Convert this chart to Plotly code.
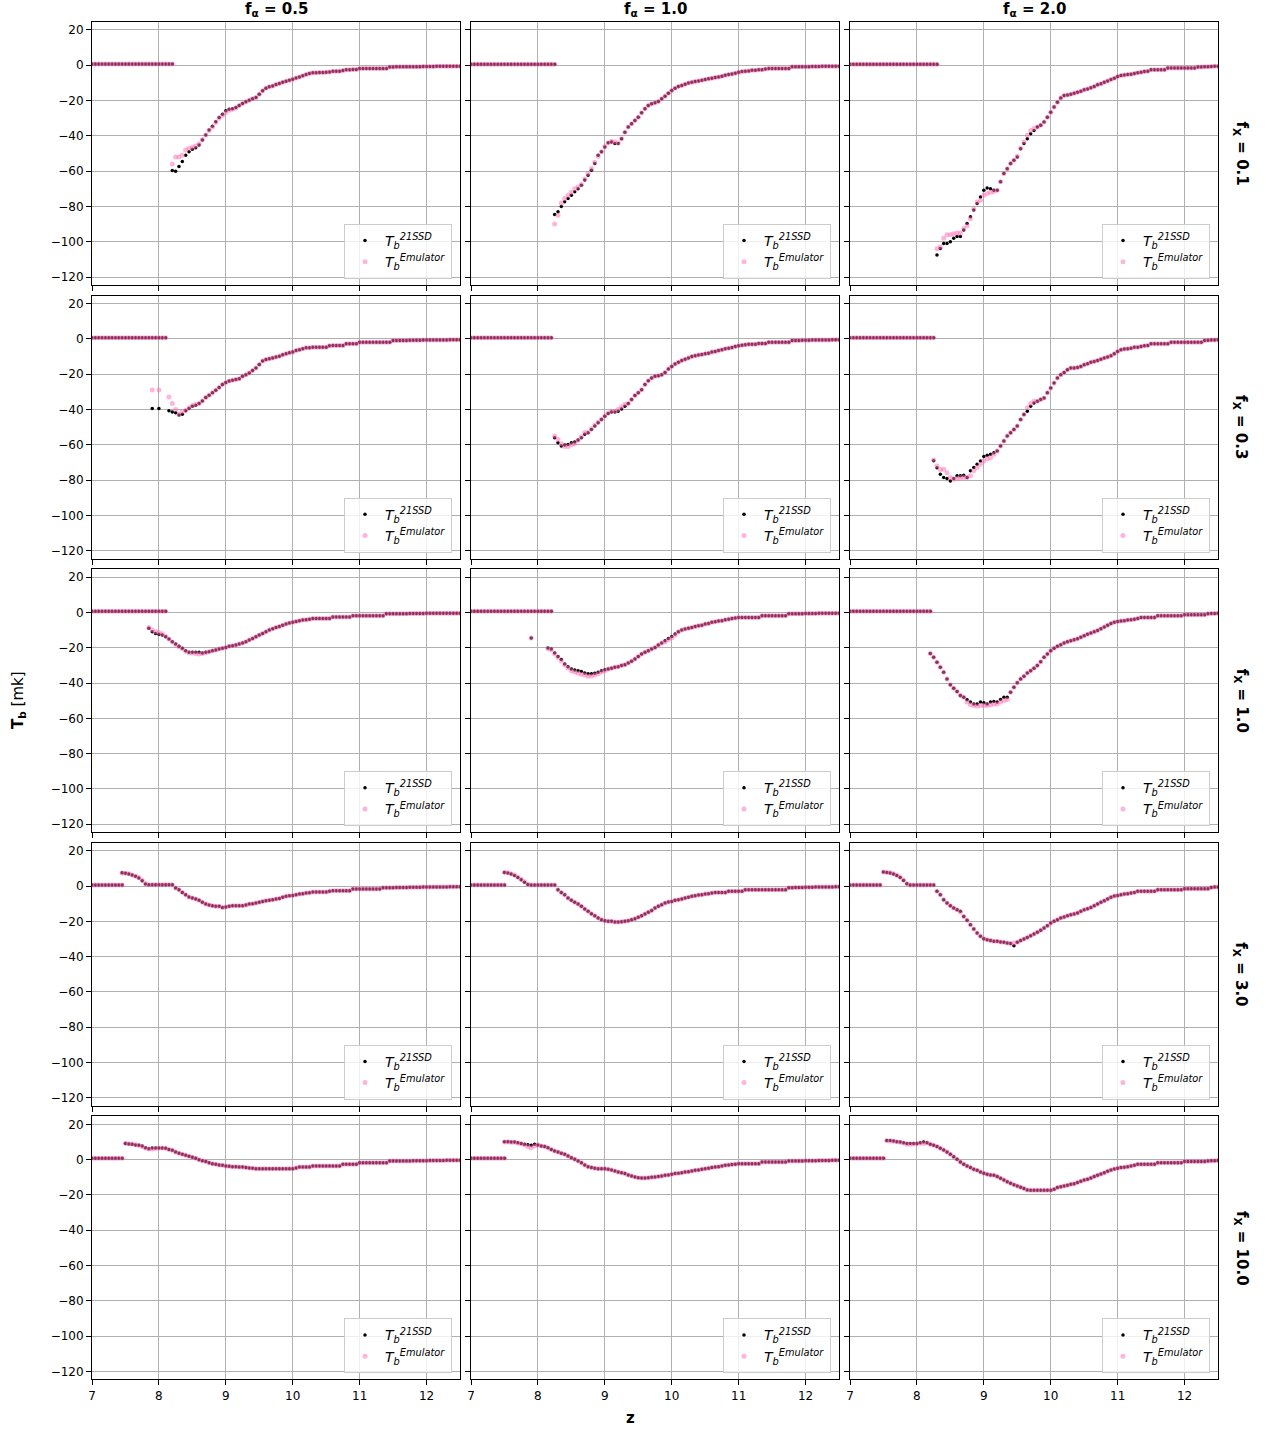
import plotly.graph_objects as go

# ---------------- categories / labels ----------------
FA_LABELS = ["0.5", "1.0", "2.0"]
FX_LABELS = ["0.1", "0.3", "1.0", "3.0", "10.0"]
X_TICKS = [7, 8, 9, 10, 11, 12]
Y_TICKS = [-120, -100, -80, -60, -40, -20, 0, 20]
Z_START = 7.0      # first redshift sample of the plateau branch
Z_STEP = 0.05      # redshift sampling step

# ---------------- data ----------------
# Each panel: plateau branch (starting at z=7.0), curve branch start z,
# T_b^21SSD curve values, and the head of the emulator curve where it
# departs from the 21SSD points (after the head both coincide).

# f_X = 0.1, f_alpha = 0.5
R1C1_PLATEAU = [0.7, 0.7, 0.7, 0.7, 0.7, 0.7, 0.7, 0.7, 0.7, 0.7, 0.7, 0.7, 0.7,
                0.7, 0.7, 0.7, 0.7, 0.7, 0.7, 0.7, 0.7, 0.7, 0.7, 0.7, 0.7]
R1C1_Z0 = 8.2
R1C1_SSD = [-59.7, -60.0, -57.4, -54.6, -51.0, -49.0, -47.6, -46.7, -45.2, -42.4,
            -39.5, -36.7, -34.5, -32.0, -29.6, -27.7, -25.8, -25.0, -24.7, -23.9,
            -22.8, -21.7, -20.7, -19.8, -19.0, -18.3, -16.4, -14.5, -13.0, -12.2,
            -11.7, -10.9, -10.4, -9.6, -9.0, -8.5, -7.9, -7.2, -6.6, -6.0,
            -5.3, -4.7, -4.3, -4.3, -4.1, -4.1, -4.0, -3.8, -3.4, -3.4,
            -3.4, -3.0, -2.6, -2.6, -2.4, -2.4, -1.9, -1.9, -1.9, -1.9,
            -1.9, -1.9, -1.9, -1.9, -1.9,
            -1.0, -1.0, -0.9, -0.9, -0.9, -0.9, -0.8, -0.8, -0.8, -0.8, -0.7,
            -0.7, -0.7, -0.7, -0.6, -0.6, -0.6, -0.6, -0.5, -0.5, -0.5, -0.5]
R1C1_EMU_HEAD = [-56.0, -52.0, -52.0, -51.0, -48.0, -47.0, -46.5, -45.8, -44.5, -42.0,
                 -39.5, -37.0, -35.0, -32.5, -30.0, -28.5, -26.8, -25.5, -25.0, -24.2]

# f_X = 0.1, f_alpha = 1.0
R1C2_PLATEAU = [0.6, 0.6, 0.6, 0.6, 0.6, 0.6, 0.6, 0.6, 0.6, 0.6, 0.6, 0.6, 0.6,
                0.6, 0.6, 0.6, 0.6, 0.6, 0.6, 0.6, 0.6, 0.6, 0.6, 0.6, 0.6, 0.6]
R1C2_Z0 = 8.25
R1C2_SSD = [-84.5, -83.0, -80.0, -77.4, -75.5, -73.6, -71.7, -70.0, -68.0, -65.0,
            -62.3, -59.5, -55.7, -51.0, -49.0, -46.3, -43.9, -43.5, -44.4, -44.4,
            -41.6, -37.9, -35.0, -33.1, -31.3, -29.4, -26.9, -24.7, -22.8, -21.8,
            -21.3, -20.5, -19.0, -17.5, -15.8, -14.3, -13.0, -12.1, -11.5, -10.7,
            -10.0, -9.6, -9.2, -8.9, -8.5, -8.1, -7.7, -7.3, -7.0, -6.6,
            -6.2, -5.6, -5.3, -4.9, -4.5, -4.0, -3.6, -3.4, -3.2, -2.8,
            -2.8, -2.6, -2.6, -2.1, -1.9, -1.9, -1.9, -1.9, -1.9, -1.9, -1.9,
            -0.9, -0.9, -0.9, -0.8, -0.8, -0.8, -0.7, -0.7, -0.7, -0.6, -0.6,
            -0.6, -0.5, -0.5, -0.5]
R1C2_EMU_HEAD = [-90.0, -85.0, -78.0, -75.5, -73.6, -72.0, -70.0, -69.0, -67.5, -64.5,
                 -61.5, -58.5, -55.0, -51.5, -49.0, -46.0, -44.0, -43.0, -43.5, -44.0]

# f_X = 0.1, f_alpha = 2.0
R1C3_PLATEAU = [0.6, 0.6, 0.6, 0.6, 0.6, 0.6, 0.6, 0.6, 0.6, 0.6, 0.6, 0.6, 0.6, 0.6,
                0.6, 0.6, 0.6, 0.6, 0.6, 0.6, 0.6, 0.6, 0.6, 0.6, 0.6, 0.6, 0.6]
R1C3_Z0 = 8.3
R1C3_SSD = [-107.5, -103.8, -101.0, -101.0, -100.0, -98.0, -97.0, -97.0, -93.4, -89.6,
            -85.9, -82.0, -78.3, -74.6, -70.8, -69.5, -69.9, -70.8, -70.8, -66.0,
            -61.4, -58.6, -55.7, -53.8, -52.0, -47.3, -44.4, -41.6, -38.8, -36.9,
            -35.0, -34.0, -32.2, -29.4, -26.6, -23.7, -20.9, -18.6, -17.1, -16.8,
            -16.4, -15.8, -15.3, -14.7, -13.9, -13.4, -12.8, -12.1, -11.1, -10.5,
            -9.6, -8.9, -8.1, -7.3, -6.4, -5.8, -5.5, -5.3, -5.1, -4.7,
            -4.3, -4.0, -3.6, -3.4, -2.6, -2.6, -2.6, -2.6, -2.6,
            -1.5, -1.5, -1.5, -1.5, -1.5, -1.5, -1.5, -1.5, -1.5,
            -1.0, -1.0, -0.9, -0.8, -0.7, -0.6, -0.5]
R1C3_EMU_HEAD = [-104.0, -103.0, -98.0, -96.0, -96.0, -95.5, -95.0, -95.0, -92.5, -91.0,
                 -87.0, -81.5, -77.5, -76.5, -73.6, -72.7, -72.0, -71.5, -70.8, -66.0,
                 -61.4, -58.6, -55.7, -53.8, -51.5, -47.0, -43.5, -39.7, -36.9, -35.9]

# f_X = 0.3, f_alpha = 0.5
R2C1_PLATEAU = [0.6, 0.6, 0.6, 0.6, 0.6, 0.6, 0.6, 0.6, 0.6, 0.6, 0.6, 0.6,
                0.6, 0.6, 0.6, 0.6, 0.6, 0.6, 0.6, 0.6, 0.6, 0.6, 0.6]
R2C1_Z0 = 7.9
R2C1_SSD = [-39.5, None, -39.5, None, None, -40.8, -41.4, -41.9, -43.2, -42.7,
            -40.8, -39.5, -38.2, -37.6, -36.7, -35.2, -33.3, -32.0, -30.6, -29.1,
            -27.6, -25.9, -24.8, -23.9, -23.5, -23.1, -22.6, -21.2, -20.3, -19.4,
            -17.9, -16.5, -14.5, -12.6, -11.7, -11.3, -10.9, -10.3, -9.8, -9.0,
            -8.5, -7.9, -7.5, -6.6, -6.2, -5.6, -5.1, -5.1, -4.7, -4.7,
            -4.7, -4.7, -4.7, -3.9, -3.8, -3.8, -3.8, -3.8, -2.8, -2.8,
            -2.8, -2.8,
            -1.9, -1.9, -1.9, -1.9, -1.9, -1.9, -1.9, -1.9, -1.9, -1.9,
            -0.9, -0.9, -0.9, -0.9, -0.9, -0.8, -0.8, -0.8, -0.8, -0.7, -0.7,
            -0.7, -0.7, -0.6, -0.6, -0.6, -0.6, -0.5, -0.5, -0.5, -0.5]
R2C1_EMU_HEAD = [-29.0, None, -29.0, None, None, -33.0, -36.7, -40.0, -42.7, -41.0,
                 -40.5, -39.0, -37.8, -37.2]

# f_X = 0.3, f_alpha = 1.0
R2C2_PLATEAU = [0.6, 0.6, 0.6, 0.6, 0.6, 0.6, 0.6, 0.6, 0.6, 0.6, 0.6, 0.6, 0.6,
                0.6, 0.6, 0.6, 0.6, 0.6, 0.6, 0.6, 0.6, 0.6, 0.6, 0.6, 0.6]
R2C2_Z0 = 8.25
R2C2_SSD = [-56.0, -58.8, -60.7, -60.2, -59.8, -58.8, -58.5, -57.3, -56.0, -54.1,
            -53.2, -51.3, -49.4, -47.6, -45.7, -43.8, -42.3, -41.5, -41.5, -41.0,
            -39.7, -38.2, -36.7, -34.4, -32.1, -30.6, -28.8, -25.9, -23.7, -22.2,
            -21.2, -20.9, -20.3, -19.0, -17.1, -15.6, -14.3, -13.2, -12.2, -11.5,
            -10.9, -10.0, -9.6, -9.2, -8.8, -8.5, -8.1, -7.5, -7.1, -6.6,
            -6.2, -5.6, -5.3, -4.9, -4.3, -3.9, -3.6, -3.4, -3.0, -3.0,
            -3.0, -2.6, -2.6, -2.6,
            -1.9, -1.9, -1.9, -1.9, -1.9, -1.9, -1.9,
            -0.9, -0.9, -0.9, -0.8, -0.8, -0.8, -0.7, -0.7, -0.7, -0.6, -0.6,
            -0.6, -0.5, -0.5, -0.5]
R2C2_EMU_HEAD = [-55.0, -57.0, -59.5, -61.0, -61.0, -60.0, -59.5, -57.5, -55.5, -53.0,
                 -53.0, -51.0, -49.0, -47.3, -45.5, -43.6, -42.0, -41.0, -41.0, -40.0,
                 -38.5, -37.0]

# f_X = 0.3, f_alpha = 2.0
R2C3_PLATEAU = [0.6, 0.6, 0.6, 0.6, 0.6, 0.6, 0.6, 0.6, 0.6, 0.6, 0.6, 0.6, 0.6,
                0.6, 0.6, 0.6, 0.6, 0.6, 0.6, 0.6, 0.6, 0.6, 0.6, 0.6, 0.6, 0.6]
R2C3_Z0 = 8.25
R2C3_SSD = [-69.0, -73.0, -76.7, -78.6, -79.1, -80.5, -79.1, -77.6, -77.6, -77.3,
            -78.6, -74.8, -72.9, -71.1, -69.2, -66.7, -66.0, -65.4, -64.5, -63.5,
            -60.7, -57.9, -55.1, -53.2, -51.3, -49.4, -45.7, -42.9, -41.0, -38.2,
            -36.3, -35.3, -34.4, -33.5, -30.6, -27.8, -25.0, -22.2, -20.3, -19.0,
            -17.5, -16.5, -16.5, -16.2, -15.6, -14.7, -14.1, -13.3, -12.8, -12.2,
            -11.5, -10.9, -10.3, -9.6, -8.5, -7.1, -6.2, -5.8, -5.6, -5.3,
            -4.7, -4.7, -4.3, -3.9, -3.8,
            -2.8, -2.8, -2.8, -2.8, -2.8, -2.8,
            -1.9, -1.9, -1.9, -1.9, -1.9, -1.9, -1.9, -1.9, -1.9, -1.9,
            -0.9, -0.8, -0.7, -0.6, -0.5]
R2C3_EMU_HEAD = [-68.6, -72.0, -74.0, -73.9, -75.8, -78.5, -79.5, -79.1, -78.6, -78.6,
                 -78.6, -77.6, -74.8, -72.9, -71.1, -69.2, -67.9, -67.3, -65.4, -63.5,
                 -60.7, -57.9, -55.1, -53.2, -51.3, -49.4, -45.7, -42.9, -39.1, -36.7,
                 -35.3]

# f_X = 1.0, f_alpha = 0.5
R3C1_PLATEAU = [0.7, 0.7, 0.7, 0.7, 0.7, 0.7, 0.7, 0.7, 0.7, 0.7, 0.7, 0.7,
                0.7, 0.7, 0.7, 0.7, 0.7, 0.7, 0.7, 0.7, 0.7, 0.7, 0.7]
R3C1_Z0 = 7.85
R3C1_SSD = [-9.0, -10.9, -11.9, -12.4, -12.8, -13.7, -15.1, -16.6, -17.9, -19.2,
            -20.3, -21.7, -22.6, -22.6, -22.6, -22.6, -23.0, -22.6, -22.2, -21.7,
            -21.3, -20.7, -20.3, -19.8, -19.2, -18.8, -18.5, -17.9, -17.3, -16.6,
            -15.6, -14.7, -13.7, -12.8, -11.9, -10.9, -10.0, -9.2, -8.5, -7.9,
            -7.2, -6.6, -6.0, -5.5, -5.1, -4.7, -4.3, -4.1, -3.8,
            -3.4, -3.4, -3.4, -3.4, -3.4, -3.4,
            -2.6, -2.6, -2.6, -2.6, -2.6, -2.6,
            -1.9, -1.9, -1.9, -1.9, -1.9, -1.9, -1.9, -1.9, -1.9, -1.9,
            -0.8, -0.8, -0.8, -0.7, -0.7, -0.7, -0.7, -0.6, -0.6, -0.6, -0.6, -0.6,
            -0.5, -0.5, -0.5, -0.5, -0.5, -0.4, -0.4, -0.4, -0.4, -0.4, -0.4]
R3C1_EMU_HEAD = [-8.5, -10.0, -11.0, -11.3, -12.0, -13.5, -15.0, -16.8, -18.2, -19.5,
                 -20.6, -22.0, -22.8, -23.0, -23.2, -23.5, -23.3, -22.8]

# f_X = 1.0, f_alpha = 1.0
R3C2_PLATEAU = [0.7, 0.7, 0.7, 0.7, 0.7, 0.7, 0.7, 0.7, 0.7, 0.7, 0.7, 0.7, 0.7,
                0.7, 0.7, 0.7, 0.7, 0.7, 0.7, 0.7, 0.7, 0.7, 0.7, 0.7, 0.7]
R3C2_Z0 = 7.9
R3C2_SSD = [-14.5, None, None, None, None, -20.1, -20.7, -23.0, -24.9, -26.7,
            -29.2, -30.7, -32.0, -32.6, -33.0, -33.5, -34.3, -34.8, -34.8, -34.5,
            -33.9, -33.0, -32.4, -32.0, -31.6, -31.1, -30.7, -30.1, -29.6, -28.6,
            -27.7, -26.4, -24.9, -23.5, -22.6, -21.7, -20.7, -19.8, -18.5, -17.3,
            -16.0, -14.7, -13.6, -12.2, -10.9, -10.0, -9.4, -8.9, -8.5, -7.9,
            -7.5, -7.2, -6.6, -6.2, -5.6, -5.3, -4.9, -4.7, -4.1, -3.8,
            -3.4, -3.2,
            -2.8, -2.8, -2.8, -2.8, -2.8, -2.8, -2.8,
            -1.9, -1.9, -1.9, -1.9, -1.9, -1.9, -1.9, -1.9,
            -0.8, -0.8, -0.7, -0.7, -0.7, -0.6, -0.6, -0.6, -0.6, -0.5, -0.5,
            -0.5, -0.5, -0.4, -0.4, -0.4]
R3C2_EMU_HEAD = [-14.5, None, None, None, None, -20.5, -21.2, -23.5, -25.5, -27.5,
                 -29.8, -31.5, -33.0, -33.8, -34.5, -35.0, -35.5, -36.2, -36.0, -35.5,
                 -34.8, -33.8, -33.0, -32.0, -31.6, -31.1, -30.7, -30.1, -29.6, -28.6,
                 -27.7, -26.4, -24.9, -23.5, -22.6, -21.7, -20.7, -19.8, -18.5, -17.3,
                 -16.8, -15.5, -14.4, -12.9]

# f_X = 1.0, f_alpha = 2.0
R3C3_PLATEAU = [0.7, 0.7, 0.7, 0.7, 0.7, 0.7, 0.7, 0.7, 0.7, 0.7, 0.7, 0.7, 0.7,
                0.7, 0.7, 0.7, 0.7, 0.7, 0.7, 0.7, 0.7, 0.7, 0.7, 0.7, 0.7]
R3C3_Z0 = 8.2
R3C3_SSD = [-23.2, -25.4, -28.2, -31.1, -33.9, -37.7, -41.0, -42.9, -44.8, -47.1,
            -48.0, -49.5, -50.8, -51.8, -51.8, -50.8, -51.2, -51.8, -50.8, -50.5,
            -50.8, -49.3, -48.0, -48.0, -45.2, -42.4, -39.9, -37.7, -36.2, -34.3,
            -33.0, -31.6, -30.1, -27.9, -25.4, -23.5, -21.7, -20.3, -19.2, -18.3,
            -17.3, -16.6, -16.0, -15.4, -14.9, -14.1, -13.2, -12.4, -11.7, -10.9,
            -10.2, -9.2, -8.3, -7.2, -6.2, -5.6, -5.1, -4.9, -4.7, -4.3,
            -4.1, -3.8, -3.4,
            -2.8, -2.8, -2.8, -2.8, -2.8,
            -1.9, -1.9, -1.9, -1.9, -1.9, -1.9, -1.9, -1.9,
            -1.3, -1.3, -1.3, -1.3, -1.3, -1.3, -1.3,
            -0.7, -0.6, -0.6, -0.5]
R3C3_EMU_HEAD = [-23.2, -25.4, -28.2, -31.1, -33.9, -37.7, -41.0, -42.9, -44.8, -47.1,
                 -48.0, -50.8, -52.3, -52.7, -53.1, -52.7, -52.7, -52.7, -52.3, -51.9,
                 -51.8, -50.8, -49.9, -49.3]

# f_X = 3.0, f_alpha = 0.5
R4C1_PLATEAU = [0.6, 0.6, 0.6, 0.6, 0.6, 0.6, 0.6, 0.6, 0.6, 0.6]
R4C1_Z0 = 7.45
R4C1_SSD = [7.6, 7.2, 6.8, 6.2, 5.5, 4.6, 3.0, 1.2, 0.8,
            0.7, 0.7, 0.7, 0.7, 0.7, 0.7, 0.7,
            -1.1, -2.1, -3.6, -4.9, -6.2, -6.8, -7.4, -8.1, -9.2, -10.2,
            -10.8, -11.1, -11.5, -11.5, -12.1, -11.9, -11.5, -11.1, -11.1, -11.1,
            -11.1, -10.8, -10.2, -10.0, -9.6, -9.2, -8.7, -8.3, -8.1, -7.7,
            -7.4, -7.0, -6.4, -5.8, -5.5, -5.3, -4.9, -4.5, -4.3, -4.0,
            -3.8,
            -3.4, -3.4, -3.4, -3.4, -3.4,
            -3.0,
            -2.6, -2.6, -2.6, -2.6, -2.6, -2.6,
            -1.7, -1.7, -1.7, -1.7, -1.7, -1.7, -1.7, -1.7, -1.7,
            -0.9, -0.9, -0.9, -0.9, -0.8, -0.8, -0.8, -0.8, -0.7, -0.7, -0.7, -0.7,
            -0.6, -0.6, -0.6, -0.6, -0.5, -0.5, -0.5, -0.5, -0.4, -0.4, -0.4, -0.4]
R4C1_EMU_HEAD = [7.4, 7.2, 6.9, 6.3, 5.6, 4.8, 3.3, 1.5, 0.8]

# f_X = 3.0, f_alpha = 1.0
R4C2_PLATEAU = [0.6, 0.6, 0.6, 0.6, 0.6, 0.6, 0.6, 0.6, 0.6, 0.6, 0.6]
R4C2_Z0 = 7.5
R4C2_SSD = [7.7, 7.4, 6.8, 6.0, 4.9, 3.6, 2.1, 0.9,
            0.6, 0.6, 0.6, 0.6, 0.6, 0.6, 0.6, 0.6,
            -2.1, -3.6, -4.9, -6.8, -8.1, -9.2, -10.2, -11.5, -13.0, -14.3,
            -15.7, -16.8, -18.1, -19.1, -19.6, -20.0, -20.0, -20.4, -20.4, -20.2,
            -20.0, -19.6, -19.1, -18.5, -17.7, -16.8, -15.8, -14.9, -13.8, -12.5,
            -11.5, -10.6, -9.6, -9.1, -8.7, -8.1, -7.7, -7.4, -6.8, -6.4,
            -5.8, -5.5, -5.1, -4.9, -4.5, -4.3, -4.0,
            -3.6, -3.6, -3.6, -3.6,
            -3.0, -3.0, -3.0, -3.0, -3.0,
            -2.1, -2.1, -2.1, -2.1, -2.1, -2.1, -2.1, -2.1, -2.1, -2.1, -2.1, -2.1, -2.1,
            -0.9, -0.9, -0.8, -0.8, -0.8, -0.7, -0.7, -0.7, -0.6, -0.6, -0.6, -0.5,
            -0.5, -0.5, -0.4, -0.4]
R4C2_EMU_HEAD = [7.8, 7.5, 6.9, 6.2, 5.1, 3.9, 2.4, 1.0]

# f_X = 3.0, f_alpha = 2.0
R4C3_PLATEAU = [0.6, 0.6, 0.6, 0.6, 0.6, 0.6, 0.6, 0.6, 0.6, 0.6]
R4C3_Z0 = 7.5
R4C3_SSD = [7.9, 7.7, 7.4, 6.8, 6.0, 4.9, 3.2, 1.3,
            0.6, 0.6, 0.6, 0.6, 0.6, 0.6, 0.6, 0.6,
            -3.0, -4.9, -7.7, -9.6, -11.1, -12.5, -13.4, -14.3, -17.2, -19.4,
            -21.9, -24.3, -26.6, -28.5, -29.8, -30.4, -30.9, -31.3, -31.3, -31.7,
            -31.9, -32.3, -32.6, -33.8, -31.9, -30.9, -30.0, -29.1, -28.1, -27.2,
            -26.2, -25.1, -23.8, -22.5, -20.9, -20.0, -19.1, -18.1, -17.5, -16.8,
            -16.2, -15.8, -15.3, -14.3, -13.4, -12.8, -12.1, -11.1, -10.2, -9.2,
            -8.3, -7.4, -6.4, -5.7, -5.3, -4.9, -4.5, -4.3, -4.0, -3.6,
            -3.0, -3.0, -3.0, -3.0, -3.0, -3.0,
            -2.1, -2.1, -2.1, -2.1, -2.1, -2.1, -2.1, -2.1,
            -1.5, -1.5, -1.5, -1.5, -1.5, -1.5, -1.5, -1.5,
            -0.8, -0.6, -0.5]
R4C3_EMU_HEAD = [8.0, 7.8, 7.5, 6.9, 6.1, 5.1, 3.6, 1.5,
                 0.6, 0.6, 0.6, 0.6, 0.6, 0.6, 0.6, 0.6,
                 -3.0, -4.9, -7.7, -9.6, -11.1, -12.5, -13.4, -14.8, -17.2, -19.4,
                 -21.9, -24.3, -26.6, -28.5, -29.8, -30.4, -30.9, -31.3, -31.3, -31.7,
                 -31.9, -32.3, -32.6, -32.3]

# f_X = 10.0, f_alpha = 0.5
R5C1_PLATEAU = [0.8, 0.8, 0.8, 0.8, 0.8, 0.8, 0.8, 0.8, 0.8, 0.8]
R5C1_Z0 = 7.5
R5C1_SSD = [9.1, 8.9, 8.7, 8.3, 8.1, 7.7, 6.8, 6.2, 6.6, 6.6,
            6.6, 6.6, 6.4, 5.8, 5.3, 4.3, 3.6, 3.0, 2.5, 1.9,
            1.3, 0.8, 0.0, -0.6, -1.1, -1.7, -2.3, -2.6, -3.0, -3.2,
            -3.6, -3.8, -4.0, -4.0, -4.2, -4.2, -4.5, -4.7, -4.9,
            -5.1, -5.1, -5.1, -5.1, -5.1, -5.1, -5.1, -5.1, -5.1, -5.1, -5.1, -5.1,
            -4.7,
            -4.2, -4.2, -4.2, -4.2,
            -3.6, -3.6, -3.6, -3.6, -3.6, -3.6, -3.6, -3.6, -3.6,
            -2.6, -2.6, -2.6, -2.6, -2.6,
            -1.7, -1.7, -1.7, -1.7, -1.7, -1.7, -1.7, -1.7, -1.7,
            -0.8, -0.8, -0.8, -0.7, -0.7, -0.7, -0.7, -0.6, -0.6, -0.6, -0.6,
            -0.6, -0.5, -0.5, -0.5, -0.5, -0.5, -0.4, -0.4, -0.4, -0.4, -0.4]
R5C1_EMU_HEAD = [9.3, 9.0, 8.8, 8.4, 8.1, 7.5, 6.5, 6.0, 6.0, 6.3]

# f_X = 10.0, f_alpha = 1.0
R5C2_PLATEAU = [0.8, 0.8, 0.8, 0.8, 0.8, 0.8, 0.8, 0.8, 0.8, 0.8, 0.8]
R5C2_Z0 = 7.5
R5C2_SSD = [10.2, 10.2, 10.0, 10.0, 9.6, 9.2, 8.7, 8.5, 8.1, 8.7,
            8.3, 7.7, 7.4, 6.8, 5.8, 4.9, 4.3, 3.6, 3.0, 2.1,
            1.1, 0.2, -0.8, -1.7, -3.0, -4.0, -4.5, -4.9, -5.1, -5.1,
            -5.1, -5.5, -5.8, -6.4, -7.0, -7.4, -7.9, -8.7, -9.2, -9.8,
            -10.2, -10.4, -10.4, -10.2, -10.0, -9.8, -9.6, -9.2, -8.9, -8.7,
            -8.3, -7.9, -7.7, -7.4, -7.0, -6.8, -6.4, -6.0, -5.8, -5.5,
            -5.1, -4.9, -4.5, -4.2, -4.0, -3.6, -3.2, -3.0, -2.8, -2.6,
            -2.3, -2.3, -2.3, -2.3, -2.3, -2.3, -2.3,
            -1.3, -1.3, -1.3, -1.3, -1.3, -1.3, -1.3, -1.3,
            -0.8, -0.8, -0.7, -0.7, -0.7, -0.6, -0.6, -0.6, -0.6, -0.5, -0.5,
            -0.5, -0.5, -0.4, -0.4, -0.4]
R5C2_EMU_HEAD = [10.0, 10.1, 9.9, 9.8, 9.5, 9.0, 8.4, 7.4, 6.8, 7.7]

# f_X = 10.0, f_alpha = 2.0
R5C3_PLATEAU = [0.8, 0.8, 0.8, 0.8, 0.8, 0.8, 0.8, 0.8, 0.8, 0.8, 0.8]
R5C3_Z0 = 7.55
R5C3_SSD = [10.9, 10.8, 10.6, 10.2, 10.0, 9.6, 9.2, 9.2, 9.1, 9.1,
            9.6, 10.0, 9.6, 8.7, 8.1, 7.4, 6.4, 5.5, 4.3, 3.0,
            1.7, 0.2, -1.3, -2.6, -3.6, -4.5, -5.5, -6.0, -7.0, -7.7,
            -8.3, -8.7, -8.9, -9.6, -10.6, -11.5, -12.5, -13.4, -14.2, -14.9,
            -15.7, -16.4, -17.2,
            -17.4, -17.4, -17.4, -17.4, -17.4, -17.4, -17.4,
            -16.8, -15.8, -15.3, -14.9, -14.5, -14.0, -13.6, -13.0, -12.3, -11.5,
            -11.1, -10.4, -9.6, -8.9, -8.1, -7.4, -6.6, -5.8, -5.3, -4.9,
            -4.5, -4.3, -4.0, -3.6, -3.2,
            -2.6, -2.6, -2.6, -2.6, -2.6, -2.6,
            -1.7, -1.7, -1.7, -1.7, -1.7, -1.7, -1.7, -1.7,
            -1.1, -1.1, -1.1, -1.1, -1.1, -1.1, -1.1,
            -0.7, -0.6, -0.6, -0.5]
R5C3_EMU_HEAD = [10.7, 10.6, 10.4, 10.1, 9.9, 9.4, 8.7, 8.7, 8.9, 9.0, 9.4, 9.2]

PANELS = [
    (R1C1_PLATEAU, R1C1_Z0, R1C1_SSD, R1C1_EMU_HEAD),
    (R1C2_PLATEAU, R1C2_Z0, R1C2_SSD, R1C2_EMU_HEAD),
    (R1C3_PLATEAU, R1C3_Z0, R1C3_SSD, R1C3_EMU_HEAD),
    (R2C1_PLATEAU, R2C1_Z0, R2C1_SSD, R2C1_EMU_HEAD),
    (R2C2_PLATEAU, R2C2_Z0, R2C2_SSD, R2C2_EMU_HEAD),
    (R2C3_PLATEAU, R2C3_Z0, R2C3_SSD, R2C3_EMU_HEAD),
    (R3C1_PLATEAU, R3C1_Z0, R3C1_SSD, R3C1_EMU_HEAD),
    (R3C2_PLATEAU, R3C2_Z0, R3C2_SSD, R3C2_EMU_HEAD),
    (R3C3_PLATEAU, R3C3_Z0, R3C3_SSD, R3C3_EMU_HEAD),
    (R4C1_PLATEAU, R4C1_Z0, R4C1_SSD, R4C1_EMU_HEAD),
    (R4C2_PLATEAU, R4C2_Z0, R4C2_SSD, R4C2_EMU_HEAD),
    (R4C3_PLATEAU, R4C3_Z0, R4C3_SSD, R4C3_EMU_HEAD),
    (R5C1_PLATEAU, R5C1_Z0, R5C1_SSD, R5C1_EMU_HEAD),
    (R5C2_PLATEAU, R5C2_Z0, R5C2_SSD, R5C2_EMU_HEAD),
    (R5C3_PLATEAU, R5C3_Z0, R5C3_SSD, R5C3_EMU_HEAD),
]

# ---------------- layout geometry (pixels) ----------------
W, H = 1271, 1432
COL_X = [(92, 460), (471, 839), (850, 1218)]
ROW_TOPS = [22, 295.6, 569.2, 842.8, 1116.4]
ROW_H = 263
FONT = "DejaVu Sans"

SSD_NAME = "<i>T</i><sub><i>b</i></sub><sup><i>21SSD</i></sup>"
EMU_NAME = "<i>T</i><sub><i>b</i></sub><sup><i>Emulator</i></sup>"

fig = go.Figure()
layout = dict(
    width=W, height=H,
    margin=dict(l=0, r=0, t=0, b=0, pad=0, autoexpand=False),
    paper_bgcolor="white", plot_bgcolor="white",
    font=dict(family=FONT, size=12, color="black"),
    showlegend=True,
)

for k, (plateau, z0, ssd, emu_head) in enumerate(PANELS):
    r, c = divmod(k, 3)
    sfx = "" if k == 0 else str(k + 1)
    zp = [round(Z_START + Z_STEP * i, 2) for i in range(len(plateau))]
    zc = [round(z0 + Z_STEP * i, 2) for i in range(len(ssd))]
    emu = list(emu_head) + list(ssd[len(emu_head):])
    leg = "legend" + sfx

    fig.add_trace(go.Scatter(
        x=zp + zc, y=list(plateau) + list(ssd), mode="markers",
        marker=dict(size=3.5, color="black", line=dict(width=0)),
        name=SSD_NAME, xaxis="x" + sfx, yaxis="y" + sfx, legend=leg,
        hoverinfo="skip"))
    fig.add_trace(go.Scatter(
        x=zp + zc, y=list(plateau) + emu, mode="markers",
        marker=dict(size=5, color="hotpink", opacity=0.5, line=dict(width=0)),
        name=EMU_NAME, xaxis="x" + sfx, yaxis="y" + sfx, legend=leg,
        hoverinfo="skip"))

    x0, x1 = COL_X[c]
    y0 = ROW_TOPS[r]
    y1 = y0 + ROW_H
    common = dict(
        ticks="outside", ticklen=5, tickwidth=1, tickcolor="black",
        showline=True, mirror=True, linecolor="black", linewidth=1,
        showgrid=True, gridcolor="#b0b0b0", gridwidth=0.8, zeroline=False,
        automargin=False,
        tickfont=dict(family=FONT, size=12, color="black"),
    )
    layout["xaxis" + sfx] = dict(
        domain=[x0 / W, x1 / W], anchor="y" + sfx, range=[7, 12.5],
        tickvals=X_TICKS, showticklabels=(r == 4), **common)
    layout["yaxis" + sfx] = dict(
        domain=[1 - y1 / H, 1 - y0 / H], anchor="x" + sfx, range=[-124.5, 24.5],
        tickvals=Y_TICKS, showticklabels=(c == 0), **common)
    layout[leg] = dict(
        x=(x1 - 8) / W, xanchor="right", y=1 - (y1 - 6) / H, yanchor="bottom",
        xref="paper", yref="paper",
        bgcolor="rgba(255,255,255,0.8)", bordercolor="#cccccc", borderwidth=1,
        font=dict(family=FONT, size=14, color="black"), tracegroupgap=0,
        itemwidth=30)

annotations = []
for c, fa in enumerate(FA_LABELS):
    x0, x1 = COL_X[c]
    annotations.append(dict(
        text=f"<b>f<sub>α</sub> = {fa}</b>", x=(x0 + x1) / 2 / W, y=1 - 9 / H,
        xref="paper", yref="paper", xanchor="center", yanchor="middle",
        showarrow=False, font=dict(family=FONT, size=15, color="black")))
for r, fx in enumerate(FX_LABELS):
    yc = ROW_TOPS[r] + ROW_H / 2
    annotations.append(dict(
        text=f"<b>f<sub>X</sub> = {fx}</b>", x=1241 / W, y=1 - yc / H,
        xref="paper", yref="paper", xanchor="center", yanchor="middle",
        textangle=90, showarrow=False,
        font=dict(family=FONT, size=15, color="black")))
annotations.append(dict(
    text="<b>T<sub>b</sub></b> [mk]", x=18 / W, y=1 - 700 / H,
    xref="paper", yref="paper", xanchor="center", yanchor="middle",
    textangle=-90, showarrow=False, font=dict(family=FONT, size=15, color="black")))
annotations.append(dict(
    text="<b>z</b>", x=630 / W, y=1 - 1418 / H,
    xref="paper", yref="paper", xanchor="center", yanchor="middle",
    showarrow=False, font=dict(family=FONT, size=15, color="black")))
layout["annotations"] = annotations

fig.update_layout(**layout)
fig.write_html("out.html")
